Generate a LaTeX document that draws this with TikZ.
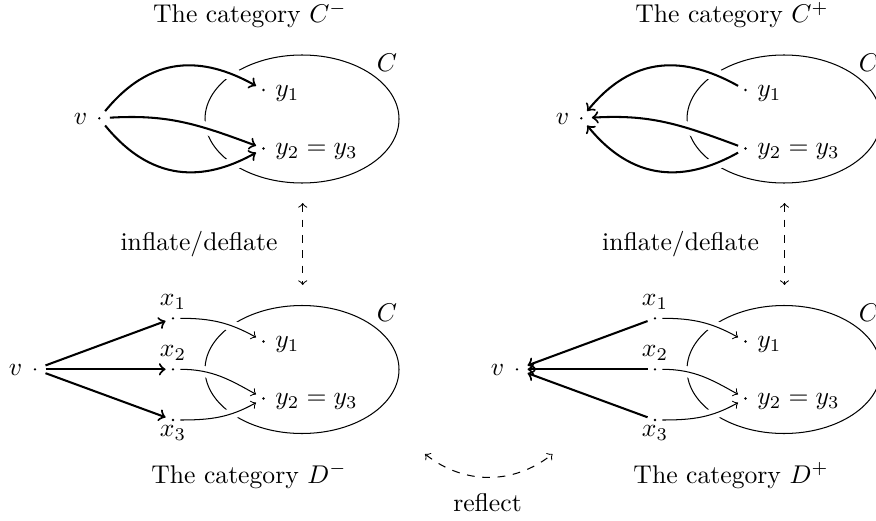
\documentclass[tikz,border=0pt]{standalone}
\usetikzlibrary{calc}
\begin{document}
\begin{tikzpicture}[x=0.013699cm,y=-0.013699cm,
  pt/.style={rectangle,inner sep=0pt,minimum width=5.4pt,minimum height=5.2pt},
  vpt/.style={rectangle,inner sep=0pt,minimum width=7.8pt,minimum height=5.2pt},
  heavy/.style={thick},
  light/.style={thin},
  maskA/.style={draw=white,line width=5pt},
  maskB/.style={draw=white,line width=4.3pt},
  region/.style={thin},
  fliparrow/.style={dashed,<->},
  title/.style={anchor=base,inner sep=0pt},
  lblL/.style={anchor=base east,inner sep=0pt},
  lblR/.style={anchor=base west,inner sep=0pt},
  lblB/.style={anchor=base,inner sep=0pt},
  dotfill/.style={fill=black},
]
\useasboundingbox (0,0) rectangle (876,520);

% ---------- titles ----------
\node[title] (tCm) at (250,22.5) {The category $C^-$};
\node[title] (tCp) at (732,22.5) {The category $C^+$};
\node[title] (tDm) at (249,483) {The category $D^-$};
\node[title] (tDp) at (731,483) {The category $D^+$};

% ---------- points ----------
% top left
\node[vpt] (tlv) at (99.3,118.3) {};
\node[pt] (tly1) at (263.5,90) {};
\node[pt] (tly2) at (263.5,148.5) {};
% top right
\node[vpt] (trv) at (581.3,118.3) {};
\node[pt] (try1) at (745.5,90) {};
\node[pt] (try2) at (745.5,148.5) {};
% bottom left
\node[vpt] (blv) at (35,369.3) {};
\node[pt] (blx1) at (173,318.3) {};
\node[pt] (blx2) at (173,369.3) {};
\node[pt] (blx3) at (173,420) {};
\node[pt] (bly1) at (263.5,341.5) {};
\node[pt] (bly2) at (263.5,398.5) {};
% bottom right
\node[vpt] (brv) at (517,369.3) {};
\node[pt] (brx1) at (655,318.3) {};
\node[pt] (brx2) at (655,369.3) {};
\node[pt] (brx3) at (655,420) {};
\node[pt] (bry1) at (745.5,341.5) {};
\node[pt] (bry2) at (745.5,398.5) {};

% ---------- ellipses ----------
\draw[region] (302,119) ellipse [x radius=97, y radius=64];
\draw[region] (784,119) ellipse [x radius=97, y radius=64];
\draw[region] (302,369.5) ellipse [x radius=97, y radius=64];
\draw[region] (784,369.5) ellipse [x radius=97, y radius=64];
\node (tlC) at (387,62.5) {$C$};
\node (trC) at (869,62.5) {$C$};
\node (blC) at (387,313) {$C$};
\node (brC) at (869,313) {$C$};

% ---------- masks ----------
\path[maskA] (tlv) .. controls +(57,-70) and +(-52,-29) .. (tly1);
\path[maskA] (tlv) .. controls +(68,-4) and +(-67,-25) .. (tly2);
\path[maskA] (tlv) .. controls +(57,70) and +(-52,29) .. (tly2);
\path[maskA] (trv) .. controls +(57,-70) and +(-52,-29) .. (try1);
\path[maskA] (trv) .. controls +(68,-4) and +(-67,-25) .. (try2);
\path[maskA] (trv) .. controls +(57,70) and +(-52,29) .. (try2);
\path[maskB] (blx1) .. controls +(38,0) and +(-34,-19) .. (bly1);
\path[maskB] (blx2) .. controls +(39,0) and +(-34,-19) .. (bly2);
\path[maskB] (blx3) .. controls +(38,0) and +(-34,19) .. (bly2);
\path[maskB] (brx1) .. controls +(38,0) and +(-34,-19) .. (bry1);
\path[maskB] (brx2) .. controls +(39,0) and +(-34,-19) .. (bry2);
\path[maskB] (brx3) .. controls +(38,0) and +(-34,19) .. (bry2);

% ---------- arrows ----------
\draw[heavy,->] (tlv) .. controls +(57,-70) and +(-52,-29) .. (tly1);
\draw[heavy,->] (tlv) .. controls +(68,-4) and +(-67,-25) .. (tly2);
\draw[heavy,->] (tlv) .. controls +(57,70) and +(-52,29) .. (tly2);
\draw[heavy,<-] (trv) .. controls +(57,-70) and +(-52,-29) .. (try1);
\draw[heavy,<-] (trv) .. controls +(68,-4) and +(-67,-25) .. (try2);
\draw[heavy,<-] (trv) .. controls +(57,70) and +(-52,29) .. (try2);

\draw[heavy,->] (blv) -- (blx1);
\draw[heavy,->] (blv) -- (blx2);
\draw[heavy,->] (blv) -- (blx3);
\draw[light,->] (blx1) .. controls +(38,0) and +(-34,-19) .. (bly1);
\draw[light,->] (blx2) .. controls +(39,0) and +(-34,-19) .. (bly2);
\draw[light,->] (blx3) .. controls +(38,0) and +(-34,19) .. (bly2);

\draw[heavy,->] (brx1) -- (brv);
\draw[heavy,->] (brx2) -- (brv);
\draw[heavy,->] (brx3) -- (brv);
\draw[light,->] (brx1) .. controls +(38,0) and +(-34,-19) .. (bry1);
\draw[light,->] (brx2) .. controls +(39,0) and +(-34,-19) .. (bry2);
\draw[light,->] (brx3) .. controls +(38,0) and +(-34,19) .. (bry2);

% ---------- dots ----------
\foreach \n in {tlv,tly1,tly2,trv,try1,try2,blv,blx1,blx2,blx3,bly1,bly2,brv,brx1,brx2,brx3,bry1,bry2}
  \fill[dotfill] (\n) circle (0.5pt);

% ---------- point labels ----------
\node[lblL] (tlvl) at ($(tlv)+(-4.5pt,-2.5pt)$) {$v$};
\node[lblR] (tly1l) at ($(tly1)+(4.4pt,-2.5pt)$) {$y_1$};
\node[lblR] (tly2l) at ($(tly2)+(4.4pt,-2.5pt)$) {$y_2 = y_3$};
\node[lblL] (trvl) at ($(trv)+(-4.5pt,-2.5pt)$) {$v$};
\node[lblR] (try1l) at ($(try1)+(4.4pt,-2.5pt)$) {$y_1$};
\node[lblR] (try2l) at ($(try2)+(4.4pt,-2.5pt)$) {$y_2 = y_3$};

\node[lblL] (blvl) at ($(blv)+(-4.8pt,-2.5pt)$) {$v$};
\node[lblB] (blx1l) at ($(blx1)+(0,4.8pt)$) {$x_1$};
\node[lblB] (blx2l) at ($(blx2)+(0,4.8pt)$) {$x_2$};
\node[lblB] (blx3l) at ($(blx3)+(0,-6.6pt)$) {$x_3$};
\node[lblR] (bly1l) at ($(bly1)+(4.4pt,-2.5pt)$) {$y_1$};
\node[lblR] (bly2l) at ($(bly2)+(4.4pt,-2.5pt)$) {$y_2 = y_3$};

\node[lblL] (brvl) at ($(brv)+(-4.8pt,-2.5pt)$) {$v$};
\node[lblB] (brx1l) at ($(brx1)+(0,4.8pt)$) {$x_1$};
\node[lblB] (brx2l) at ($(brx2)+(0,4.8pt)$) {$x_2$};
\node[lblB] (brx3l) at ($(brx3)+(0,-6.6pt)$) {$x_3$};
\node[lblR] (bry1l) at ($(bry1)+(4.4pt,-2.5pt)$) {$y_1$};
\node[lblR] (bry2l) at ($(bry2)+(4.4pt,-2.5pt)$) {$y_2 = y_3$};

% ---------- dashed connectors ----------
\coordinate (idlt) at (302.7,203);
\coordinate (idlb) at (302.7,285);
\coordinate (idrt) at (784.5,203);
\coordinate (idrb) at (784.5,285);
\draw[fliparrow] (idlt) -- (idlb);
\draw[fliparrow] (idrt) -- (idrb);
\node[title] (idll) at (199,250.5) {inflate/deflate};
\node[title] (idrl) at (680.5,250.5) {inflate/deflate};

\coordinate (rfl) at (425,454);
\coordinate (rfr) at (552.5,454);
\draw[fliparrow] (rfl) .. controls +(39,31) and +(-39,31) .. (rfr);
\node[title] (rflab) at (487.5,511) {reflect};
\end{tikzpicture}
\end{document}
